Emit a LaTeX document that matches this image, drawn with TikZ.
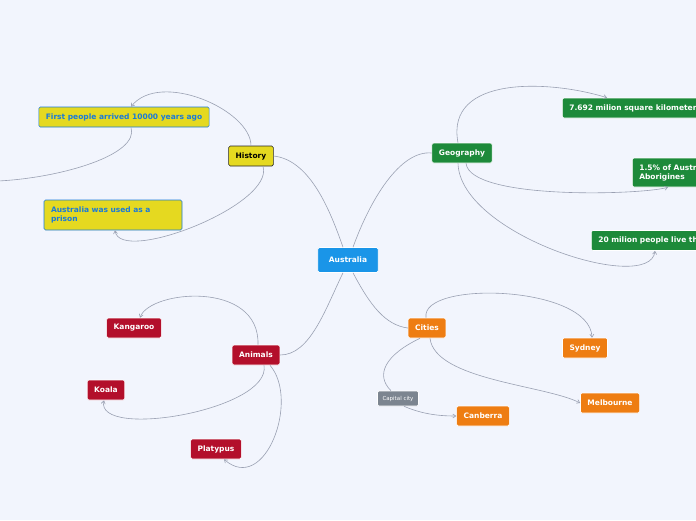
\documentclass[tikz,border=0pt]{standalone}
\usepackage{fontspec}
\setmainfont{DejaVu Sans}
\usetikzlibrary{arrows.meta}
\usetikzlibrary{positioning}

\definecolor{bgcol}{HTML}{F2F5FD}
\definecolor{linecol}{HTML}{9AA0B2}
\definecolor{rootcol}{HTML}{1A95E8}
\definecolor{histcol}{HTML}{E5D920}
\definecolor{histtext}{HTML}{1A7AD9}
\definecolor{geocol}{HTML}{1D8A3A}
\definecolor{citycol}{HTML}{EE7D12}
\definecolor{animcol}{HTML}{B30F2B}
\definecolor{capcol}{HTML}{7C8590}

\tikzset{
    topic/.style={rounded corners=1.5pt, minimum height=20pt, inner xsep=7pt, inner ysep=3pt,
        font=\fontsize{7.5}{9}\selectfont\bfseries, text=white, draw=white, line width=0.6pt},
    root/.style={topic, fill=rootcol, minimum height=25pt, inner xsep=11pt},
    hist/.style={topic, fill=histcol, draw=black!85, text=black},
    histsub/.style={topic, fill=histcol, draw=histtext, text=histtext, align=left},
    geo/.style={topic, fill=geocol, align=left, anchor=west},
    city/.style={topic, fill=citycol},
    anim/.style={topic, fill=animcol},
    label/.style={topic, fill=capcol, font=\fontsize{5.5}{7}\selectfont, minimum height=15pt, inner xsep=5pt},
    link/.style={draw=linecol, line width=0.6pt},
    sublink/.style={link, -{Straight Barb[length=3pt,width=4pt]}}
}

\begin{document}
\begin{tikzpicture}[x=1pt,y=-1pt]
    \fill[bgcol] (0,0) rectangle (696,520);
    \useasboundingbox (0,0) rectangle (696,520);

    % main topic and branches
    \node[root] (australia) at (348,260) {Australia};
    \node[hist] (history) at (251,156) {History};
    \node[geo, anchor=center] (geography) at (462,153) {Geography};
    \node[city] (cities) at (427,328) {Cities};
    \node[anim] (animals) at (256,355) {Animals};

    % history
    \node[histsub] (firstpeople) at (124,117) {First people arrived 10000 years ago};
    \node[histsub, minimum height=30pt, text width=124pt] (prison) at (113,215) {Australia was used as a prison};

    % geography
    \node[geo] (area) at (562,108) {7.692 milion square kilometers};
    \node[geo, minimum height=29pt] (aborigines) at (632,172.5) {1.5\% of Australians are\\Aborigines};
    \node[geo] (people) at (591,240.5) {20 milion people live there};

    % cities
    \node[city] (sydney) at (585,348) {Sydney};
    \node[city] (melbourne) at (610,403) {Melbourne};
    \node[label] (capital) at (398,398.5) {Capital city};
    \node[city] (canberra) at (483,416) {Canberra};

    % animals
    \node[anim] (kangaroo) at (134,328) {Kangaroo};
    \node[anim] (koala) at (106,390) {Koala};
    \node[anim] (platypus) at (216,449) {Platypus};

    % branches from the root
    \draw[link] ([xshift=-5pt]australia.north) .. controls (330,210) and (310,160) .. (history.east);
    \draw[link] ([xshift=5pt]australia.north) .. controls (370,200) and (400,150) .. (geography.west);
    \draw[link] ([xshift=5pt]australia.south) .. controls (370,305) and (385,325) .. (cities.west);
    \draw[link] ([xshift=-5pt]australia.south) .. controls (325,310) and (310,355) .. (animals.east);

    % history links
    \draw[sublink] (history.north) .. controls (251,110) and (160,70) .. ([xshift=7pt]firstpeople.north);
    \draw[link] ([xshift=7pt]firstpeople.south) .. controls (140,155) and (60,178) .. (-2,181);
    \draw[sublink] ([xshift=12pt]history.south) .. controls (275,205) and (120,265) .. ([xshift=2pt]prison.south);

    % geography links
    \draw[sublink] ([xshift=-4pt]geography.north) .. controls (445,75) and (550,80) .. ([xshift=45pt]area.north west);
    \draw[sublink] ([xshift=4pt]geography.south) .. controls (470,200) and (640,195) .. ([xshift=36pt]aborigines.south west);
    \draw[sublink] ([xshift=-4pt]geography.south) .. controls (460,235) and (650,295) .. ([xshift=64pt]people.south west);

    % cities links
    \draw[sublink] ([xshift=-1pt]cities.north) .. controls (420,280) and (590,285) .. ([xshift=7pt]sydney.north);
    \draw[sublink] ([xshift=3pt]cities.south) .. controls (435,380) and (545,385) .. (melbourne.west);
    \draw[link] ([xshift=-7pt]cities.south) .. controls (385,355) and (375,375) .. ([xshift=-7pt]capital.north);
    \draw[sublink] ([xshift=6pt]capital.south) .. controls (420,413) and (435,416) .. (canberra.west);

    % animals links
    \draw[sublink] ([xshift=2pt]animals.north) .. controls (260,280) and (150,290) .. ([xshift=6pt]kangaroo.north);
    \draw[sublink] ([xshift=8pt]animals.south) .. controls (272,410) and (95,440) .. ([xshift=-2pt]koala.south);
    \draw[sublink] ([xshift=14pt]animals.south) .. controls (300,400) and (265,495) .. ([xshift=8pt]platypus.south);
\end{tikzpicture}
\end{document}
